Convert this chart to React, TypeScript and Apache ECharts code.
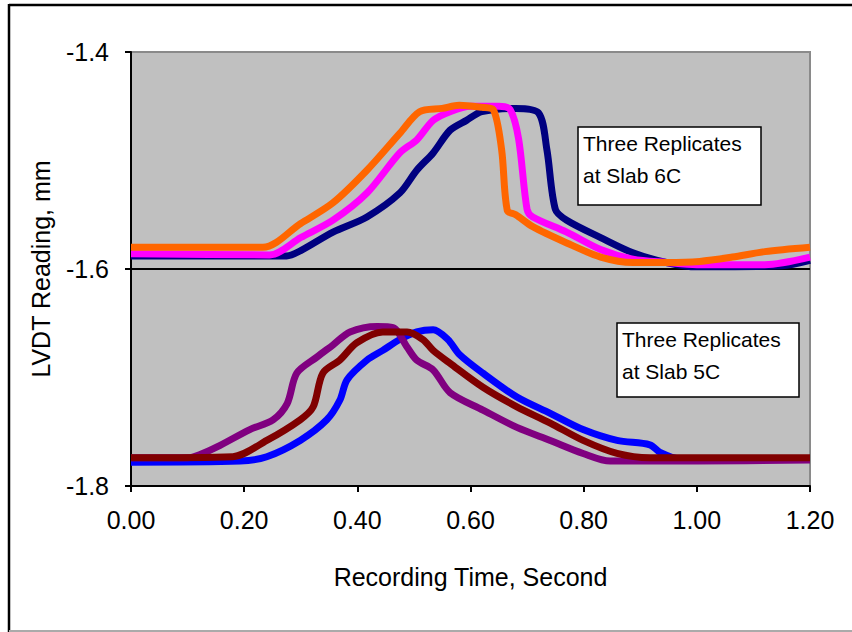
import React, { useEffect, useRef } from "react";
import * as echarts from "echarts";

// time (s), LVDT reading (mm)
const slab6C_navy: [number, number][] = [
  [0, -1.588], [0.275, -1.588], [0.30, -1.583], [0.357, -1.566], [0.417, -1.552],
  [0.475, -1.530], [0.505, -1.509], [0.534, -1.493], [0.564, -1.472], [0.593, -1.463],
  [0.62, -1.455], [0.68, -1.452], [0.72, -1.456], [0.735, -1.49], [0.75, -1.545],
  [0.77, -1.555], [0.83, -1.571], [0.887, -1.585], [0.946, -1.594], [1.0, -1.598],
  [1.15, -1.597], [1.2, -1.592],
];
const slab6C_magenta: [number, number][] = [
  [0, -1.586], [0.245, -1.587], [0.30, -1.571], [0.357, -1.555], [0.417, -1.530],
  [0.475, -1.493], [0.505, -1.481], [0.534, -1.463], [0.564, -1.455], [0.60, -1.450],
  [0.65, -1.450], [0.67, -1.453], [0.685, -1.480], [0.70, -1.545], [0.71, -1.552],
  [0.77, -1.566], [0.83, -1.582], [0.887, -1.591], [0.946, -1.594], [1.0, -1.596],
  [1.12, -1.596], [1.2, -1.589],
];
const slab6C_orange: [number, number][] = [
  [0, -1.580], [0.233, -1.580], [0.30, -1.558], [0.357, -1.539], [0.417, -1.509],
  [0.475, -1.475], [0.51, -1.455], [0.55, -1.452], [0.58, -1.449], [0.62, -1.451],
  [0.64, -1.453], [0.655, -1.490], [0.665, -1.546], [0.68, -1.550], [0.71, -1.561],
  [0.77, -1.576], [0.83, -1.589], [0.887, -1.594], [0.946, -1.594], [1.005, -1.593],
  [1.063, -1.589], [1.12, -1.584], [1.2, -1.580],
];
const slab5C_blue: [number, number][] = [
  [0, -1.778], [0.193, -1.777], [0.24, -1.773], [0.299, -1.758], [0.346, -1.739],
  [0.369, -1.721], [0.382, -1.702], [0.417, -1.684], [0.445, -1.675], [0.475, -1.665],
  [0.505, -1.658], [0.534, -1.656], [0.56, -1.665], [0.581, -1.679], [0.622, -1.696],
  [0.682, -1.718], [0.741, -1.733], [0.799, -1.748], [0.859, -1.758], [0.917, -1.762],
  [0.935, -1.769], [0.97, -1.775], [1.2, -1.775],
];
const slab5C_purple: [number, number][] = [
  [0, -1.774], [0.10, -1.774], [0.122, -1.771], [0.152, -1.764], [0.21, -1.748],
  [0.251, -1.739], [0.276, -1.724], [0.293, -1.696], [0.329, -1.681], [0.357, -1.670],
  [0.387, -1.658], [0.435, -1.653], [0.463, -1.654], [0.488, -1.672], [0.505, -1.684],
  [0.534, -1.693], [0.564, -1.714], [0.622, -1.730], [0.682, -1.746], [0.741, -1.758],
  [0.799, -1.770], [0.847, -1.777], [1.0, -1.777], [1.2, -1.776],
];
const slab5C_maroon: [number, number][] = [
  [0, -1.774], [0.18, -1.773], [0.24, -1.758], [0.299, -1.739], [0.322, -1.727],
  [0.339, -1.696], [0.369, -1.684], [0.399, -1.668], [0.445, -1.658], [0.488, -1.658],
  [0.516, -1.665], [0.534, -1.675], [0.564, -1.687], [0.622, -1.709], [0.682, -1.727],
  [0.741, -1.742], [0.799, -1.758], [0.859, -1.770], [0.917, -1.774], [1.2, -1.774],
];

const xTicks = [0, 0.2, 0.4, 0.6, 0.8, 1.0, 1.2];
const yTicks = [-1.8, -1.6, -1.4];
const refLine = -1.6;
const note6C = ["Three Replicates", "at Slab 6C"];
const note5C = ["Three Replicates", "at Slab 5C"];

const FONT = "'Liberation Sans', Arial, sans-serif";

export default function App() {
  const ref = useRef<HTMLDivElement>(null);
  useEffect(() => {
    if (!ref.current) return;
    const chart = echarts.init(ref.current, undefined, { renderer: "svg" });
    const mk = (name: string, data: [number, number][], color: string, extra: any = {}) => ({
      name,
      type: "line",
      data,
      showSymbol: false,
      symbol: "none",
      smooth: 0.3,
      lineStyle: { color, width: 7 },
      itemStyle: { color },
      silent: true,
      ...extra,
    });
    const note = (lines: string[], x: number, y: number, w: number, h: number) => ({
      type: "group",
      x,
      y,
      children: [
        { type: "rect", shape: { x: 0, y: 0, width: w, height: h }, style: { fill: "#fff", stroke: "#000", lineWidth: 1.5 } },
        {
          type: "text",
          x: 5,
          y: 0,
          style: { text: lines.join("\n"), font: `21px ${FONT}`, fill: "#000", lineHeight: 32 },
        },
      ],
    });
    chart.setOption({
      animation: false,
      backgroundColor: "#fff",
      grid: {
        left: 131,
        top: 52,
        right: 42,
        bottom: 146,
        show: true,
        backgroundColor: "#C0C0C0",
        borderColor: "#8a8a8a",
        borderWidth: 2,
      },
      xAxis: {
        type: "value",
        min: xTicks[0],
        max: xTicks[xTicks.length - 1],
        interval: 0.2,
        name: "Recording Time, Second",
        nameLocation: "middle",
        nameGap: 78,
        nameTextStyle: { fontFamily: FONT, fontSize: 25, color: "#000" },
        axisLine: { show: true, lineStyle: { color: "#000", width: 2 } },
        axisTick: { show: true, inside: false, length: 6, lineStyle: { color: "#000", width: 2 } },
        axisLabel: { fontFamily: FONT, fontSize: 25, color: "#000", margin: 21, formatter: (v: number) => v.toFixed(2) },
        splitLine: { show: false },
      },
      yAxis: {
        type: "value",
        min: yTicks[0],
        max: yTicks[yTicks.length - 1],
        interval: 0.2,
        name: "LVDT Reading, mm",
        nameLocation: "middle",
        nameGap: 78,
        nameTextStyle: { fontFamily: FONT, fontSize: 25, color: "#000" },
        axisLine: { show: true, lineStyle: { color: "#000", width: 2 } },
        axisTick: { show: true, inside: false, length: 6, lineStyle: { color: "#000", width: 2 } },
        axisLabel: { fontFamily: FONT, fontSize: 25, color: "#000", margin: 22, formatter: (v: number) => v.toFixed(1) },
        splitLine: { show: false },
      },
      series: [
        mk("6C-3", slab6C_navy, "#000080", {
          markLine: {
            silent: true,
            symbol: "none",
            label: { show: false },
            lineStyle: { color: "#000", width: 2, type: "solid" },
            data: [{ yAxis: refLine }],
            z: 1,
          },
        }),
        mk("6C-2", slab6C_magenta, "#FF00FF"),
        mk("6C-1", slab6C_orange, "#FF6600"),
        mk("5C-1", slab5C_blue, "#0000FF"),
        mk("5C-2", slab5C_purple, "#800080"),
        mk("5C-3", slab5C_maroon, "#800000"),
      ],
      graphic: [
        { type: "line", shape: { x1: 9, y1: 5, x2: 852, y2: 5 }, style: { stroke: "#000", lineWidth: 2.5 } },
        { type: "line", shape: { x1: 9, y1: 4, x2: 9, y2: 632 }, style: { stroke: "#000", lineWidth: 2.5 } },
        { type: "line", shape: { x1: 9, y1: 631, x2: 852, y2: 631 }, style: { stroke: "#aaa", lineWidth: 2 } },
        note(note6C, 578, 127, 183, 78),
        note(note5C, 617, 323, 182, 74),
      ],
    });
    return () => chart.dispose();
  }, []);
  return <div ref={ref} style={{ position: "fixed", left: 0, top: 0, width: 852, height: 632 }} />;
}
